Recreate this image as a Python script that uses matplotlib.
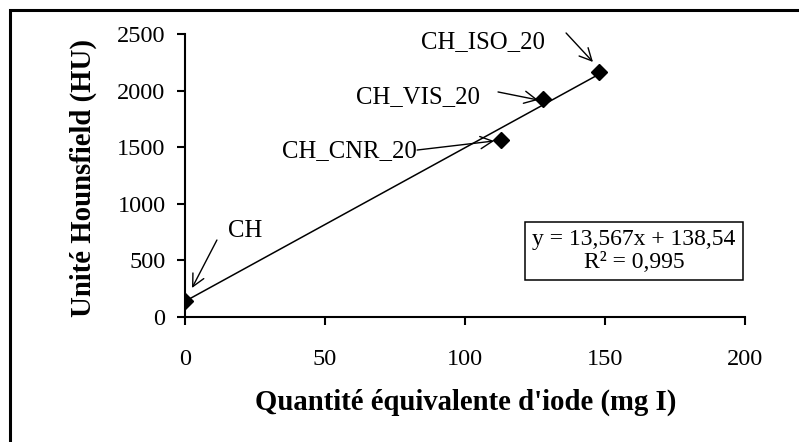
import numpy as np
import matplotlib
matplotlib.use('Agg')
import matplotlib.pyplot as plt
from matplotlib.patches import Rectangle

# Données
quantite = [0, 113, 128, 148]
hu = [140, 1565, 1925, 2160]
noms = ['CH', 'CH_CNR_20', 'CH_VIS_20', 'CH_ISO_20']
pente = 13.567
ordonnee = 138.54
r2 = 0.995

plt.rcParams['font.family'] = ['Liberation Serif', 'DejaVu Serif']

fig = plt.figure(figsize=(7.99, 4.42), dpi=100)
ax = fig.add_axes([185 / 799, 1 - 317 / 442, 560 / 799, 283 / 442])

# Cadre extérieur (seuls les bords gauche et haut sont visibles)
fig.patches.append(Rectangle((10 / 799, -0.1), 1.2, 1 - 10 / 442 + 0.1,
                             transform=fig.transFigure, fill=False,
                             edgecolor='black', linewidth=2.2))

# Droite de tendance
x_fit = np.array([0, max(quantite)])
ax.plot(x_fit, pente * x_fit + ordonnee, color='black', linewidth=1.1, zorder=2)
ax.plot(quantite, hu, linestyle='none', marker='D', markersize=8,
        color='black', zorder=3)

# Étiquettes avec flèches : (texte x, texte y, début flèche, fin flèche)
positions = {
    'CH': ((21.4, 760), (11.4, 680), (2.5, 256)),
    'CH_CNR_20': ((58.9, 1466), (82.9, 1475), (110.4, 1555)),
    'CH_VIS_20': ((83.2, 1943), (111.8, 1988), (126.1, 1917)),
    'CH_ISO_20': ((106.4, 2429), (136.1, 2509), (145.7, 2253)),
}
for nom in noms:
    (tx, ty), debut, fin = positions[nom]
    ax.text(tx, ty, nom, fontsize=17.8, ha='center', va='center')
    ax.annotate('', xy=fin, xytext=debut,
                arrowprops=dict(arrowstyle='->', color='black', lw=1.0,
                                mutation_scale=22, shrinkA=0, shrinkB=0))

ax.text(160.4, 583,
        'y = {}x + {}\nR² = {}'.format(str(pente).replace('.', ','),
                                       str(ordonnee).replace('.', ','),
                                       str(r2).replace('.', ',')),
        fontsize=17, ha='center', va='center', linespacing=1.1,
        bbox=dict(boxstyle='square,pad=0.3', facecolor='white',
                  edgecolor='black', linewidth=1.1))

ax.set_xlim(0, 200)
ax.set_ylim(0, 2500)
ax.set_xticks(range(0, 201, 50))
ax.set_yticks(range(0, 2501, 500))
for s in ['top', 'right']:
    ax.spines[s].set_visible(False)
for s in ['left', 'bottom']:
    ax.spines[s].set_linewidth(1.5)
ax.tick_params(axis='both', direction='out', length=6, width=1.5,
               labelsize=17.5)
ax.tick_params(axis='x', pad=17)
ax.tick_params(axis='y', pad=8)

fig.text(466 / 799, 1 - 402 / 442, "Quantité équivalente d'iode (mg I)",
         fontsize=20.7, fontweight='bold', ha='center', va='center')
fig.text(83 / 799, 1 - 178 / 442, 'Unité Hounsfield (HU)',
         fontsize=20.7, fontweight='bold', ha='center', va='center',
         rotation=90)

plt.savefig('out.png', dpi=100)
